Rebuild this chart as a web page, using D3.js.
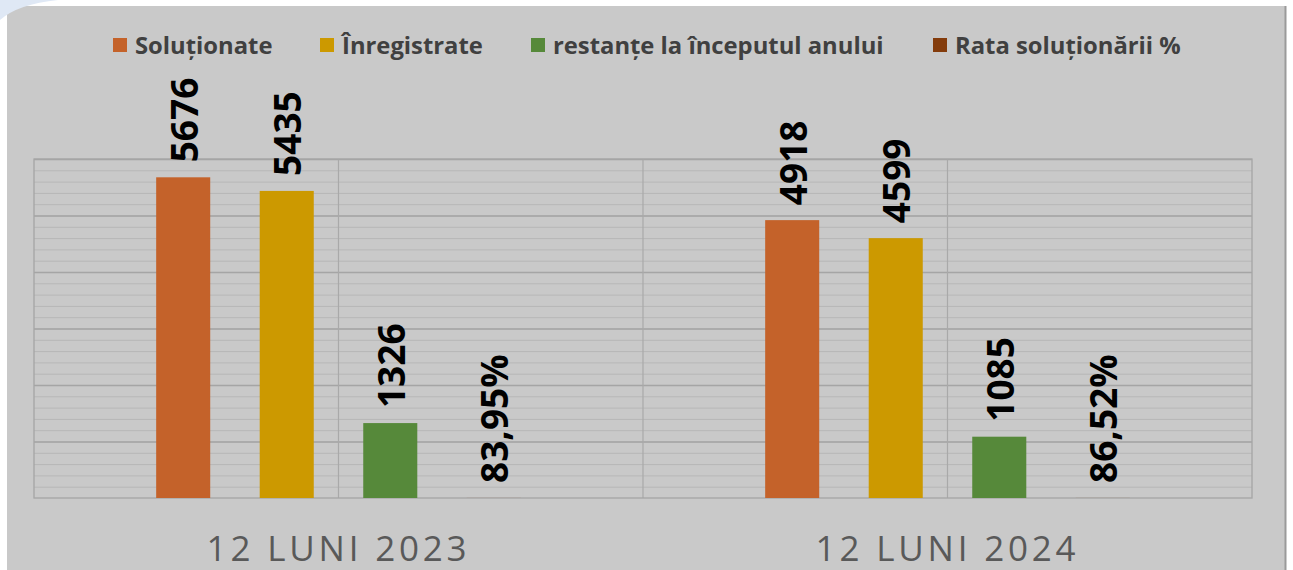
<!DOCTYPE html>
<html>
<head>
<meta charset="utf-8">
<script src="https://cdn.jsdelivr.net/npm/d3@7"></script>
<style>
  html, body { margin: 0; padding: 0; background: #fff; }
  svg { display: block; }
</style>
</head>
<body>
<div id="chart"></div>
<script>
// chart data
const categories = ['12 LUNI 2023', '12 LUNI 2024'];
const seriesNames = ['Soluționate', 'Înregistrate', 'restanțe la începutul anului', 'Rata soluționării %'];
const solutionate = [5676, 4918];
const inregistrate = [5435, 4599];
const restante = [1326, 1085];
const rataSolutionarii = [0.8395, 0.8652];
const seriesColors = ['#c4622a', '#cc9900', '#56893a', '#843c0c'];

const W = 1293, H = 570;
const plot = { left: 34, right: 1252, top: 159, bottom: 498 };

const svg = d3.select('#chart').append('svg')
    .attr('width', W)
    .attr('height', H);

// page / chart area background
svg.append('rect').attr('width', W).attr('height', H).attr('fill', '#ffffff');
svg.append('rect')
    .attr('x', 7).attr('y', 6)
    .attr('width', 1278).attr('height', H - 6)
    .attr('fill', '#c9c9c9');
svg.append('line')
    .attr('x1', 1285.5).attr('x2', 1285.5)
    .attr('y1', 6).attr('y2', H)
    .attr('stroke', '#9a9a9a').attr('stroke-width', 2);
svg.append('path')
    .attr('d', 'M0,20 Q18,4 58,0 L0,0 Z')
    .attr('fill', '#dfe8f5');

const allSeries = [solutionate, inregistrate, restante, rataSolutionarii];
const data = categories.map((c, i) => ({
    category: c,
    values: seriesNames.map((s, j) => ({ series: s, value: allSeries[j][i], idx: j }))
}));

const x0 = d3.scaleBand()
    .domain(categories)
    .range([plot.left, plot.right])
    .padding(0);

const x1 = d3.scaleBand()
    .domain(seriesNames)
    .range([0, x0.bandwidth()])
    .paddingInner(0.478)
    .paddingOuter(1.18);

const y = d3.scaleLinear()
    .domain([0, 6000])
    .range([plot.bottom, plot.top]);

const plotW = plot.right - plot.left;

// minor gridlines
svg.append('g')
    .attr('transform', `translate(${plot.left},0)`)
    .call(d3.axisLeft(y).tickValues(d3.range(200, 6000, 200)).tickSize(-plotW).tickFormat(''))
    .call(g => g.select('.domain').remove())
    .call(g => g.selectAll('line').attr('stroke', '#b7b7b7').attr('stroke-width', 1));

// major gridlines
svg.append('g')
    .attr('transform', `translate(${plot.left},0)`)
    .call(d3.axisLeft(y).tickValues(d3.range(1000, 6001, 1000)).tickSize(-plotW).tickFormat(''))
    .call(g => g.select('.domain').remove())
    .call(g => g.selectAll('line').attr('stroke', '#a5a5a5').attr('stroke-width', 1.3));

// vertical gridlines at category midpoints and boundaries
const vLines = [];
categories.forEach(c => {
    vLines.push(x0(c) + x0.bandwidth() / 2);
});
vLines.push(x0(categories[1]));
svg.append('g')
    .selectAll('line')
    .data(vLines)
    .join('line')
    .attr('x1', d => d).attr('x2', d => d)
    .attr('y1', plot.top).attr('y2', plot.bottom)
    .attr('stroke', '#a9a9a9').attr('stroke-width', 1.2);

// plot border
svg.append('rect')
    .attr('x', plot.left).attr('y', plot.top)
    .attr('width', plotW).attr('height', plot.bottom - plot.top)
    .attr('fill', 'none')
    .attr('stroke', '#a5a5a5').attr('stroke-width', 1.3);

// bars
const groups = svg.append('g')
    .selectAll('g')
    .data(data)
    .join('g')
    .attr('transform', d => `translate(${x0(d.category)},0)`);

groups.selectAll('rect')
    .data(d => d.values)
    .join('rect')
    .attr('x', d => x1(d.series))
    .attr('y', d => y(d.value))
    .attr('width', x1.bandwidth())
    .attr('height', d => y(0) - y(d.value))
    .attr('fill', d => seriesColors[d.idx]);

// value labels
const roLocale = d3.formatLocale({ decimal: ',', thousands: '.', grouping: [3], currency: ['', ''] });
const fmtInt = roLocale.format('d');
const fmtPct = roLocale.format('.2%');

groups.selectAll('text')
    .data(d => d.values)
    .join('text')
    .attr('transform', d => `translate(${x1(d.series) + x1.bandwidth() / 2},${y(d.value) - 15}) rotate(-90)`)
    .attr('text-anchor', 'start')
    .attr('dominant-baseline', 'central')
    .style('font-family', '"Open Sans", sans-serif')
    .style('font-weight', 'bold')
    .style('font-size', '37px')
    .style('fill', '#000')
    .text(d => d.idx === 3 ? fmtPct(d.value) : fmtInt(d.value));

// category labels
svg.append('g')
    .selectAll('text')
    .data(categories)
    .join('text')
    .attr('x', d => x0(d) + x0.bandwidth() / 2)
    .attr('y', 561)
    .attr('text-anchor', 'middle')
    .style('font-family', '"Open Sans", sans-serif')
    .style('font-size', '35px')
    .style('letter-spacing', '3.8px')
    .style('fill', '#595959')
    .text(d => d);

// legend
const legendX = [113, 320, 531, 933];
const legend = svg.append('g')
    .selectAll('g')
    .data(seriesNames)
    .join('g')
    .attr('transform', (d, i) => `translate(${legendX[i]},45)`);

legend.append('rect')
    .attr('x', 0).attr('y', -7)
    .attr('width', 14).attr('height', 14)
    .attr('fill', (d, i) => seriesColors[i]);

legend.append('text')
    .attr('x', 22)
    .attr('y', 0)
    .attr('dominant-baseline', 'central')
    .style('font-family', '"Open Sans", sans-serif')
    .style('font-weight', 'bold')
    .style('font-size', '23.8px')
    .style('fill', '#404040')
    .text(d => d);
</script>
</body>
</html>
